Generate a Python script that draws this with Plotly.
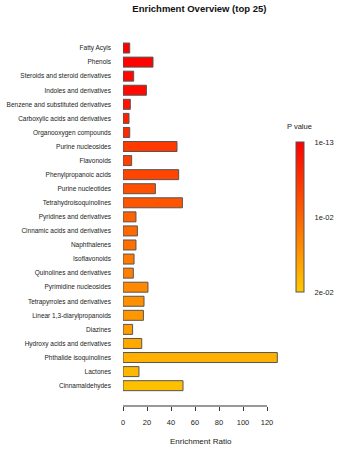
import plotly.graph_objects as go

categories = ["Fatty Acyls", "Phenols", "Steroids and steroid derivatives", "Indoles and derivatives",
              "Benzene and substituted derivatives", "Carboxylic acids and derivatives",
              "Organooxygen compounds", "Purine nucleosides", "Flavonoids", "Phenylpropanoic acids",
              "Purine nucleotides", "Tetrahydroisoquinolines", "Pyridines and derivatives",
              "Cinnamic acids and derivatives", "Naphthalenes", "Isoflavonoids",
              "Quinolines and derivatives", "Pyrimidine nucleosides", "Tetrapyrroles and derivatives",
              "Linear 1,3-diarylpropanoids", "Diazines", "Hydroxy acids and derivatives",
              "Phthalide isoquinolines", "Lactones", "Cinnamaldehydes"]
enrichment_ratio = [5.6, 25, 8.9, 19.5, 6.1, 5.0, 5.6, 45, 7.2, 46.4, 27, 49.5, 10.8, 12, 10.8,
                    9.2, 8.6, 20.8, 17.5, 17, 8, 15.6, 128.6, 13.3, 50]
p_values = [1e-13, 0.0001, 0.0008, 0.001, 0.002, 0.0032, 0.0042, 0.0058, 0.0063, 0.0069, 0.008,
            0.0085, 0.0098, 0.0106, 0.0112, 0.0122, 0.0128, 0.0138, 0.0144, 0.0152, 0.0156,
            0.0168, 0.0176, 0.0184, 0.0192]
x_ticks = [0, 20, 40, 60, 80, 100, 120]
cbar_tickvals = [0, 0.01, 0.02]
cbar_ticktext = ["1e-13", "1e-02", "2e-02"]

FONT = "Liberation Sans, Arial, sans-serif"

# colour bar runs with small p at the top: plot negated p so the scale is flipped
neg_p = [-p for p in p_values]

fig = go.Figure(go.Bar(
    x=enrichment_ratio, y=categories, orientation="h", width=0.71,
    marker=dict(
        color=neg_p, cmin=-cbar_tickvals[-1], cmax=-cbar_tickvals[0],
        colorscale=[[0, "#FFC800"], [1, "#FF0000"]],
        line=dict(color="#555555", width=1),
        colorbar=dict(
            tickvals=[-v for v in cbar_tickvals], ticktext=cbar_ticktext,
            tickfont=dict(size=7.5, family=FONT, color="#222"),
            thickness=8, lenmode="pixels", len=150,
            x=1.107, xanchor="left", y=0.517, yanchor="middle",
            xpad=0, ypad=0, outlinecolor="#555555", outlinewidth=1,
            ticks="outside", ticklen=9, tickcolor="rgba(0,0,0,0)",
        ),
    ),
    showlegend=False,
))

fig.update_layout(
    width=342, height=450,
    margin=dict(l=123, r=63, t=41, b=44, autoexpand=False),
    plot_bgcolor="white", paper_bgcolor="white",
    font=dict(family=FONT, color="#222"),
    title=dict(text="<b>Enrichment Overview (top 25)</b>", x=0.583, xref="container", xanchor="center",
               y=1 - 9 / 450, yref="container", yanchor="middle",
               font=dict(size=9.5, family=FONT, color="#111")),
    xaxis=dict(range=[0, 130], tickvals=x_ticks, showgrid=False, zeroline=False, showline=False,
               ticks="outside", ticklen=4, tickcolor="#333", ticklabelstandoff=5,
               tickfont=dict(size=7.5, family=FONT, color="#222")),
    yaxis=dict(categoryorder="array", categoryarray=categories, range=[25.445, -0.5],
               showgrid=False, zeroline=False, showline=False, ticks="", ticklabelstandoff=11,
               automargin=False, tickfont=dict(size=6.5, family=FONT, color="#222")),
    shapes=[dict(type="line", xref="x", yref="paper", x0=x_ticks[0], x1=x_ticks[-1], y0=0, y1=0,
                 line=dict(color="#333", width=1))],
    annotations=[
        dict(text="Enrichment Ratio", xref="paper", yref="paper", x=0.5, y=-36 / 365.3,
             xanchor="center", yanchor="middle", showarrow=False,
             font=dict(size=8, family=FONT, color="#222")),
        dict(text="P value", xref="paper", yref="paper", x=1.131, y=0.7646,
             xanchor="center", yanchor="middle", showarrow=False,
             font=dict(size=7.5, family=FONT, color="#222")),
    ],
)

fig.write_html("out.html", config={"displayModeBar": False},
               post_script="document.body.style.margin='0';")
